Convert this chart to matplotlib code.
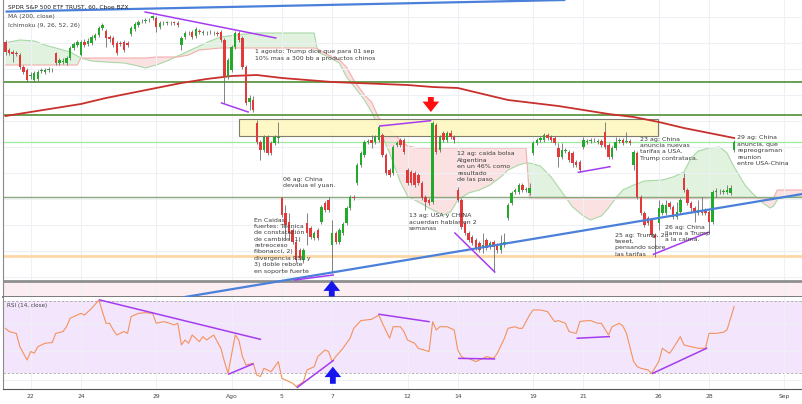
import numpy as np
import matplotlib.pyplot as plt

# SPY hourly bars, bar 0 = first hour of Fri 19 Jul 2019 (7 bars per session)
opens = [
    258, 250, 248, 247, 245, 233, 230,
    224, 220, 221, 229, 228, 230, 230,
    247, 237, 238, 237, 242, 252, 255,
    245, 258, 256, 257, 262, 265, 272,
    269, 263, 262, 257, 257, 258, 257,
    266, 271, 275, 279, 279, 280, 282,
    282, 273, 277, 277, 277, 278, 277,
    255, 263, 267, 268, 264, 269, 267,
    267, 268, 267, 267, 268, 260, 223,
    230, 253, 267, 262, 233, 198, 200,
    177, 158, 150, 163, 157, 157, 162,
    102, 87, 78, 70, 58, 50, 40,
    77, 72, 62, 70, 78, 97, 100,
    55, 67, 58, 67, 77, 92, 103,
    117, 135, 145, 158, 160, 158, 160,
    165, 145, 130, 127, 155, 160, 160,
    130, 128, 127, 125, 117, 103, 100,
    98, 175, 150, 167, 160, 167, 163,
    110, 100, 77, 67, 63, 60, 57,
    52, 60, 53, 58, 55, 50, 55,
    82, 97, 108, 108, 115, 110, 107,
    147, 157, 160, 160, 165, 163, 162,
    152, 143, 149, 148, 147, 138, 138,
    153, 158, 159, 160, 158, 159, 168,
    155, 143, 152, 159, 160, 158, 159,
    135, 147, 103, 87, 82, 80, 65,
    77, 87, 87, 97, 93, 83, 88,
    122, 110, 97, 92, 87, 90, 90,
    88, 78, 108, 108, 108, 108, 107,
    150,
]
closes = [
    248, 247, 246, 246, 233, 228, 220,
    225, 227, 228, 230, 230, 231, 230,
    237, 240, 239, 242, 252, 256, 258,
    258, 255, 259, 263, 265, 272, 275,
    262, 261, 255, 247, 256, 250, 255,
    272, 276, 278, 279, 280, 280, 284,
    273, 277, 277, 278, 277, 277, 275,
    262, 267, 267, 263, 271, 268, 268,
    267, 268, 267, 266, 260, 223, 240,
    253, 267, 260, 233, 197, 202, 190,
    158, 150, 163, 147, 147, 163, 163,
    85, 75, 67, 58, 40, 42, 50,
    67, 63, 67, 62, 93, 90, 90,
    67, 58, 70, 76, 92, 103, 102,
    135, 147, 158, 159, 157, 163, 173,
    145, 127, 125, 153, 157, 155, 148,
    117, 117, 115, 117, 102, 98, 97,
    177, 148, 163, 160, 167, 163, 160,
    100, 73, 67, 60, 57, 52, 50,
    55, 52, 57, 53, 50, 57, 58,
    95, 107, 110, 115, 110, 111, 112,
    157, 160, 162, 165, 162, 160, 157,
    143, 150, 150, 140, 137, 135, 130,
    160, 159, 160, 160, 159, 155, 153,
    143, 152, 158, 160, 157, 159, 157,
    148, 103, 87, 75, 77, 65, 62,
    92, 95, 95, 93, 83, 88, 100,
    110, 97, 92, 87, 90, 87, 87,
    78, 108, 109, 108, 109, 110, 112,
    158,
]
highs = [
    260, 252, 250, 249, 247, 235, 232,
    228, 229, 230, 232, 232, 233, 232,
    248, 242, 242, 244, 254, 258, 260,
    260, 261, 262, 265, 267, 274, 277,
    271, 265, 264, 259, 259, 260, 259,
    274, 278, 280, 281, 282, 282, 285,
    284, 279, 279, 279, 279, 279, 279,
    264, 269, 269, 270, 273, 271, 270,
    269, 270, 269, 269, 270, 262, 242,
    255, 269, 269, 264, 235, 205, 204,
    180, 160, 165, 165, 159, 165, 178,
    103, 95, 87, 72, 60, 52, 52,
    87, 74, 69, 72, 95, 99, 103,
    80, 69, 72, 78, 94, 105, 105,
    137, 149, 160, 161, 165, 165, 175,
    167, 147, 132, 155, 159, 162, 162,
    132, 130, 129, 127, 119, 105, 102,
    179, 177, 165, 169, 169, 170, 165,
    113, 102, 79, 69, 65, 62, 59,
    67, 62, 59, 60, 57, 65, 67,
    97, 109, 112, 117, 117, 113, 117,
    159, 162, 164, 167, 167, 165, 164,
    157, 157, 152, 150, 149, 140, 140,
    163, 161, 162, 162, 161, 161, 178,
    157, 154, 163, 162, 162, 168, 161,
    150, 149, 105, 89, 84, 82, 67,
    100, 97, 100, 99, 95, 98, 102,
    127, 112, 99, 94, 100, 103, 92,
    90, 110, 112, 111, 111, 115, 115,
    160,
]
lows = [
    245, 245, 238, 244, 231, 226, 218,
    221, 218, 219, 227, 226, 228, 228,
    235, 235, 236, 235, 240, 250, 253,
    244, 253, 254, 255, 260, 263, 270,
    253, 258, 253, 245, 254, 248, 253,
    264, 269, 273, 277, 277, 278, 280,
    268, 271, 275, 275, 275, 275, 273,
    250, 261, 265, 261, 262, 266, 265,
    265, 266, 265, 264, 258, 197, 221,
    228, 251, 258, 231, 195, 190, 188,
    156, 140, 148, 145, 145, 155, 157,
    83, 60, 60, 56, 38, 40, 37,
    55, 61, 60, 60, 76, 88, 88,
    27, 56, 56, 65, 75, 90, 100,
    115, 133, 143, 156, 152, 156, 158,
    143, 125, 123, 125, 153, 153, 146,
    115, 115, 113, 115, 100, 90, 95,
    96, 146, 148, 158, 158, 161, 157,
    98, 71, 65, 58, 55, 50, 48,
    47, 50, 51, 28, 47, 47, 53,
    80, 95, 106, 106, 108, 108, 105,
    145, 155, 158, 158, 160, 158, 155,
    133, 141, 147, 138, 133, 133, 128,
    151, 156, 157, 158, 156, 153, 151,
    141, 141, 150, 157, 155, 157, 155,
    130, 101, 85, 73, 75, 63, 43,
    70, 85, 85, 91, 81, 81, 86,
    108, 95, 87, 78, 85, 85, 85,
    67, 76, 103, 106, 106, 106, 105,
    148,
]

# MA(200) read at the first bar of each session
ma_bar = list(range(0, 204, 7))
ma200 = [184, 188, 192, 196, 202, 207, 212, 217, 221, 224, 225, 222, 220, 218, 217,
         216, 215, 213, 212, 206, 200, 197, 194, 190, 186, 183, 178, 172, 167, 162]

# Ichimoku leading spans (already shifted 26 bars forward)
cloud_bar = [0, 1, 4, 8, 11, 15, 18, 20, 21, 24, 28, 33, 37, 39, 42, 45, 48, 51, 54, 57,
             60, 64, 70, 80, 86, 87, 90, 93, 95, 97, 100, 102, 104, 107, 110, 112, 115, 119, 122, 124,
             126, 129, 132, 135, 138, 140, 143, 145, 146, 149, 152, 155, 158, 161, 163, 166, 168, 170, 172, 175,
             178, 183, 186, 189, 191, 193, 196, 199, 201, 203, 206, 208, 211, 213, 214, 215, 217, 224]
span_a = [255, 258, 260, 259, 255, 251, 248, 244, 242, 239, 238, 237, 234, 232, 235, 239, 244, 249, 254, 259,
          263, 265, 267, 267, 267, 248, 243, 237, 223, 214, 200, 188, 172, 147, 118, 104, 98, 90, 85, 88,
          100, 107, 110, 115, 123, 130, 135, 137, 137, 134, 123, 108, 93, 84, 80, 84, 92, 102, 110, 115,
          119, 120, 123, 128, 142, 149, 152, 153, 147, 133, 115, 107, 97, 92, 94, 100, 103, 103]
span_b = [235, 235, 235, 235, 235, 235, 235, 235, 242, 242, 242, 242, 242, 242, 243, 243, 243, 245, 250, 251,
          252, 252, 252, 252, 252, 251, 245, 240, 233, 220, 205, 198, 182, 170, 160, 154, 152, 152, 152, 152,
          152, 152, 152, 152, 152, 152, 152, 152, 102, 102, 102, 102, 102, 102, 102, 102, 102, 102, 102, 102,
          102, 102, 102, 102, 102, 102, 102, 102, 102, 102, 102, 102, 102, 102, 102, 110, 110, 110]

# RSI(14)
rsi_bar = [0, 1, 3, 4, 6, 7, 8, 9, 11, 13, 14, 16, 17, 18, 21, 22, 24, 26, 28, 29,
           30, 31, 33, 34, 35, 37, 39, 41, 42, 44, 45, 47, 48, 49, 50, 51, 52, 54, 55, 56,
           58, 60, 61, 62, 64, 65, 66, 67, 69, 70, 71, 72, 74, 76, 77, 78, 80, 81, 83, 84,
           85, 86, 87, 89, 90, 91, 92, 94, 96, 97, 99, 102, 104, 105, 107, 108, 109, 110, 111, 112,
           114, 115, 118, 119, 120, 121, 123, 125, 126, 127, 128, 129, 131, 133, 134, 136, 137, 139, 140, 142,
           143, 144, 146, 147, 149, 151, 153, 154, 156, 157, 159, 160, 161, 163, 165, 166, 168, 169, 171, 172,
           173, 175, 176, 177, 179, 180, 182, 183, 185, 186, 188, 189, 191, 193, 195, 196, 198, 200, 201, 203]
rsi = [54.8, 53.0, 52.0, 44.6, 37.2, 41.9, 41.0, 44.6, 46.5, 46.9, 52.0, 53.0, 55.7, 60.4, 63.1, 62.2, 65.9, 70.5, 57.6, 57.6,
       53.9, 51.1, 53.0, 52.0, 61.3, 63.1, 63.5, 63.1, 57.6, 58.5, 58.1, 56.7, 57.6, 45.6, 48.3, 46.5, 51.1, 47.4, 50.2, 48.3,
       51.1, 43.7, 36.3, 29.8, 51.1, 48.3, 39.1, 34.4, 35.4, 28.9, 28.0, 32.6, 30.7, 36.3, 27.0, 26.1, 24.3, 22.4, 25.2, 31.7,
       32.6, 33.5, 39.1, 42.8, 41.9, 36.3, 39.1, 43.7, 49.3, 54.8, 59.1, 59.8, 62.2, 57.6, 49.3, 55.7, 55.7, 55.7, 53.0, 48.3,
       46.5, 43.7, 41.9, 58.5, 53.9, 55.7, 55.7, 53.9, 42.8, 39.1, 38.1, 38.1, 36.3, 38.1, 39.1, 38.1, 40.9, 49.3, 54.8, 55.7,
       54.8, 54.8, 62.2, 65.0, 65.0, 64.1, 58.5, 59.1, 57.6, 53.0, 52.0, 58.5, 58.9, 59.1, 57.6, 57.6, 51.1, 55.7, 57.6, 56.1,
       52.0, 36.3, 33.5, 32.6, 31.7, 29.8, 36.3, 43.7, 40.9, 43.7, 50.2, 45.6, 44.6, 43.7, 43.7, 52.0, 52.0, 52.6, 53.9, 66.9]

tick_bar = [7, 21, 42, 63, 77, 91, 112, 126, 147, 161, 182, 196, 217]
tick_labels = ["22", "24", "29", "Ago", "5", "7", "12", "14", "19", "21", "26", "28", "Sep"]

# drawings on the chart
support_res = [218, 185, 158, 103, 44.5, 19]
box = (65.0, 164, 181.8, 180.7)           # bar0, low, bar1, high
blue_lines = [((0, 288.4), (156, 300)), ((50, 3), (222, 106))]
purple_main = [((38.9, 288), (75.3, 262)), ((60.2, 197), (67.6, 188)), ((104.3, 174), (118.4, 179.3)),
               ((80.6, 20), (91.3, 25)), ((125.2, 67), (136.3, 28)), ((159.6, 127.7), (168.4, 133.3)),
               ((180.5, 45.7), (195.8, 67.7))]
purple_rsi = [((26.2, 70.6), (71.0, 48.7)), ((62.2, 29.4), (68.9, 35.0)), ((81.3, 22.0), (91.3, 36.9)),
              ((104.1, 62.6), (118.0, 58.5)), ((126.3, 38.1), (136.2, 37.8)), ((159.3, 49.3), (168.2, 50.2)),
              ((180.3, 29.8), (195.3, 43.7))]

notes = [
    (69.5, 250.5, "1 agosto: Trump dice que para 01 sep\n10% mas a 300 bb a productos chinos"),
    (77.3, 123.5, "06 ag: China\ndevalua el yuan."),
    (69.2, 82.5, "En Caidas\nfuertes: Técnica\nde constatación\nde cambios: 1)\nretreoceso\nfibonacci, 2)\n"
                 "divergencia RSI, y\n3) doble rebote\nen soporte fuerte"),
    (112.4, 86.5, "13 ag: USA y CHINA\nacuerdan hablar en 2\nsemanas"),
    (125.8, 148.5, "12 ag: caida bolsa\nAtgentina\nen un 46% como\nresultado\nde las paso."),
    (176.7, 163.5, "23 ag: China\nanuncia nuevas\ntarifas a USA.\nTrump contrataca."),
    (203.8, 164.5, "29 ag: China\nanuncia, que\nrepreograman\nreunion\nentre USA-China"),
    (169.8, 67.5, "25 ag: Trump, 2o\ntweet,\npensando sobre\nlas tarifas"),
    (183.7, 75.5, "26 ag: China\nllama a Trump\na la calma."),
]

GREEN, RED, WICK = "#22ab2a", "#e23a3a", "#6e6e6e"
PURPLE, BLUE = "#a53cf0", "#4a80da"
GRID = "#edf0f5"
ARROW = dict(arrowstyle="simple,head_width=1.2,head_length=0.75,tail_width=0.42",
             lw=0, shrinkA=0, shrinkB=0)

fig = plt.figure(figsize=(8.02, 4.04), dpi=100)
ax = fig.add_axes([3 / 802, 107 / 404, 799 / 802, 297 / 404])
ax2 = fig.add_axes([3 / 802, 15 / 404, 799 / 802, 92 / 404])
xlim = (-0.7, 221.9)

# ---- main panel ----
ax.set_xlim(*xlim)
ax.set_ylim(3, 300)
ax.set_xticks(tick_bar)
ax.set_yticks([23, 49, 75, 101, 127, 153, 179, 205, 231, 257, 283])
ax.grid(True, color=GRID, lw=0.8)
ax.tick_params(left=False, bottom=False, labelleft=False, labelbottom=False)
for s in ["top", "right"]:
    ax.spines[s].set_visible(False)
ax.spines["left"].set_color("#8a8a8a")
ax.spines["bottom"].set_color("#7a7a7a")
ax.spines["bottom"].set_linewidth(1.4)

cb = np.array(cloud_bar)
sa = np.array(span_a)
sb = np.array(span_b)
ax.fill_between(cb, sa, sb, where=sa >= sb, interpolate=True, color="#e1f2df", lw=0, zorder=1)
ax.fill_between(cb, sa, sb, where=sa < sb, interpolate=True, color="#fbe1e1", lw=0, zorder=1)
ax.plot(cb, sa, color="#a9d8a6", lw=0.8, zorder=1.2)
ax.plot(cb, sb, color="#f3aeae", lw=0.8, zorder=1.2)

ax.axhspan(4, 19, color="#fbedf2", lw=0, zorder=0.5)
lvl_style = [("#4f8f35", 1.2), ("#4f8f35", 1.2), ("#9ceb9c", 0.9),
             ("#8aa87c", 1.0), ("#fbd7a6", 2.0), ("#8f8f8f", 2.0)]
for lv, (col, lw) in zip(support_res, lvl_style):
    ax.axhline(lv, color=col, lw=lw, zorder=2)

b0, blo, b1, bhi = box
ax.add_patch(plt.Rectangle((b0, blo), b1 - b0, bhi - blo, facecolor="#fdf8c0",
                           edgecolor="#707060", lw=0.8, alpha=0.9, zorder=2.2))

ax.plot(ma_bar, ma200, color="#c8302c", lw=1.3, zorder=3)

o = np.array(opens, float)
c = np.array(closes, float)
idx = np.arange(len(c))
cols = np.where(c >= o, GREEN, RED)
ax.vlines(idx, lows, highs, color=WICK, lw=0.6, zorder=4)
h = np.abs(c - o)
bot = np.where(h < 0.8, (o + c) / 2 - 0.4, np.minimum(o, c))
ax.bar(idx, np.maximum(h, 0.8), bottom=bot, width=0.68, color=cols, lw=0, zorder=5)

for (x0, y0), (x1, y1) in blue_lines:
    ax.plot([x0, x1], [y0, y1], color=BLUE, lw=1.6, zorder=6, solid_capstyle="butt")
for (x0, y0), (x1, y1) in purple_main:
    ax.plot([x0, x1], [y0, y1], color=PURPLE, lw=1.1, zorder=6)

ax.annotate("", xy=(118.5, 188), xytext=(118.5, 203),
            arrowprops=dict(color="#ff1010", **ARROW), zorder=7)
ax.annotate("", xy=(90.9, 19.5), xytext=(90.9, 3.5),
            arrowprops=dict(color="#1515ee", **ARROW), zorder=7)

for bx, by, txt in notes:
    ax.text(bx, by, txt, fontsize=4.5, color="#3a3a3a", va="top", ha="left",
            linespacing=1.35, zorder=8)

fig.text(8 / 802, 1 - 7.5 / 404, "SPDR S&P 500 ETF TRUST, 60, Cboe BZX", fontsize=4.2,
         color="#1e1e1e", va="center", ha="left", zorder=9)
fig.text(8 / 802, 1 - 16.7 / 404, "MA (200, close)", fontsize=4.3, color="#444444",
         va="center", ha="left")
fig.text(8 / 802, 1 - 26 / 404, "Ichimoku (9, 26, 52, 26)", fontsize=4.3, color="#444444",
         va="center", ha="left")

# ---- RSI panel ----
ax2.set_xlim(*xlim)
ax2.set_ylim(21.1, 72.2)
ax2.axhspan(30, 70, color="#f3e5fc", lw=0, zorder=0.5)
ax2.set_xticks(tick_bar)
ax2.set_xticklabels(tick_labels)
ax2.set_yticks([26, 42, 58])
ax2.grid(True, color=GRID, lw=0.7, zorder=0.6)
ax2.tick_params(left=False, labelleft=False, length=0, labelsize=4.3,
                labelcolor="#444444", pad=3.5)
for lv in (70, 30):
    ax2.axhline(lv, color="#a8a8a8", lw=0.6, ls=(0, (3, 2)), zorder=1)
for s in ["top", "right"]:
    ax2.spines[s].set_visible(False)
ax2.spines["left"].set_color("#8a8a8a")
ax2.spines["bottom"].set_color("#555555")

ax2.plot(rsi_bar, rsi, color="#f4925e", lw=0.8, zorder=3)
for (x0, y0), (x1, y1) in purple_rsi:
    ax2.plot([x0, x1], [y0, y1], color=PURPLE, lw=1.1, zorder=4)
ax2.annotate("", xy=(91.2, 33.5), xytext=(91.2, 24.0),
             arrowprops=dict(color="#1515ee", **ARROW), zorder=5)
ax2.text(4 / 799, 1 - 8 / 92, "RSI (14, close)", transform=ax2.transAxes, fontsize=4.1,
         color="#444444", va="center", ha="left")

fig.savefig("out.png", dpi=100)
